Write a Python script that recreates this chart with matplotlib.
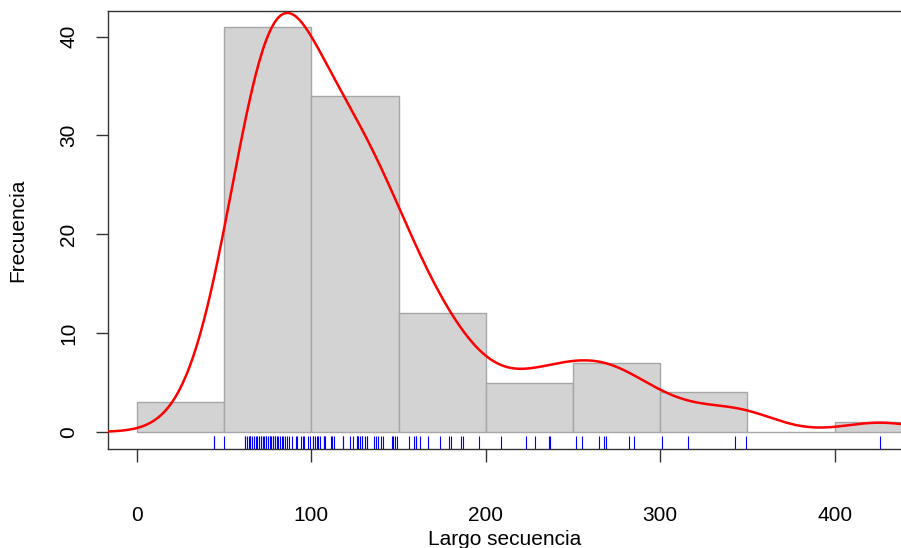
import numpy as np
import matplotlib.pyplot as plt

plt.rcParams['font.family'] = ['Liberation Sans', 'DejaVu Sans']

# histogram bins (width 50) and counts
bin_edges = [0, 50, 100, 150, 200, 250, 300, 350, 400, 450]
counts = [3, 41, 34, 12, 5, 7, 4, 0, 1]

# sequence lengths read from the rug
lengths = [
    44, 44, 50,
    62, 64, 65, 67, 69, 71, 72, 74, 75, 76, 78, 78, 79, 80, 82, 83, 84, 86,
    87, 89, 91, 92, 94, 95, 96, 98, 99,
    62, 63, 65, 66, 68, 70, 71, 73, 74, 76, 77, 79, 81, 85,
    101, 102, 103, 105, 107, 108, 111, 113, 118, 124, 126, 127, 128, 129,
    131, 132, 137, 138, 141, 146, 147, 148, 149,
    101, 104, 107, 112, 118, 122, 126, 129, 132, 136, 140,
    156, 159, 160, 160, 162, 167, 174, 179, 180, 186, 187, 196,
    209, 223, 228, 236, 237,
    252, 255, 265, 268, 269, 282, 285,
    301, 316, 343, 349,
    426,
]

x_ticks = [0, 100, 200, 300, 400]
y_ticks = [0, 10, 20, 30, 40]

fig = plt.figure(figsize=(9.01, 5.48), dpi=100)
ax = fig.add_axes([0.1199, 0.1807, 0.8811, 0.7993])

# histogram bars
left = np.array(bin_edges[:-1])
width = np.diff(bin_edges)
ax.bar(left, counts, width=width, align='edge', color='#d3d3d3',
       edgecolor='#a6a6a6', linewidth=1.0, zorder=1)

# gaussian kde, bandwidth like R's bw.nrd0, scaled to counts
data = np.array(lengths, dtype=float)
n = len(data)
sd = data.std(ddof=1)
iqr = np.subtract(*np.percentile(data, [75, 25]))
bw = 0.9 * min(sd, iqr / 1.34) * n ** (-0.2)
xs = np.linspace(data.min() - 3 * bw, data.max() + 3 * bw, 512)
dens = np.exp(-0.5 * ((xs[:, None] - data[None, :]) / bw) ** 2).sum(axis=1)
dens = dens / (n * bw * np.sqrt(2 * np.pi))
ax.plot(xs, dens * n * 50, color='red', linewidth=1.8, zorder=3)

# rug
ymin, ymax = -1.72, 42.6
ax.set_ylim(ymin, ymax)
ax.set_xlim(-16.6, 438.6)
ax.vlines(data, ymin, ymin + 0.03 * (ymax - ymin), color='blue',
          linewidth=0.8, zorder=4)

ax.set_xticks(x_ticks)
ax.set_yticks(y_ticks)
ax.set_yticklabels([str(v) for v in y_ticks], rotation=90, va='center')
ax.tick_params(axis='both', direction='out', length=9, width=1.0,
               labelsize=15, color='#333333')
ax.tick_params(axis='x', pad=32)
ax.tick_params(axis='y', pad=12.5)

for s in ['left', 'top', 'bottom']:
    ax.spines[s].set_linewidth(1.0)
    ax.spines[s].set_color('#333333')
ax.spines['right'].set_visible(False)

ax.set_xlabel('Largo secuencia', fontsize=15, labelpad=4)
ax.set_ylabel('Frecuencia', fontsize=15, labelpad=23)

fig.savefig('out.png', dpi=100)
